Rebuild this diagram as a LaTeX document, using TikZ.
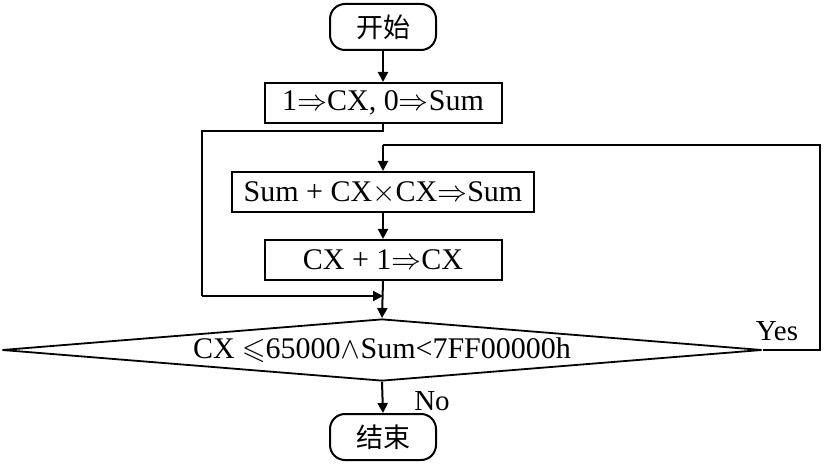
\documentclass[tikz,border=0pt]{standalone}
\usepackage{unicode-math}
\setmainfont{Liberation Serif}
\setmathfont{Latin Modern Math}
\newfontfamily\cjk{Noto Sans CJK SC}
\usetikzlibrary{arrows.meta,shapes.geometric}
\begin{document}
\begin{tikzpicture}[x=1pt,y=-1pt,
  term/.style={draw, line width=2pt, rounded corners=15pt, minimum width=106pt, minimum height=46pt, inner sep=0pt, font=\cjk\fontsize{27}{30}\selectfont},
  proc/.style={draw, line width=2pt, minimum height=40pt, inner sep=0pt, font=\fontsize{30}{34}\selectfont},
  dec/.style={diamond, draw, line width=1.8pt, aspect=12.2, minimum width=760pt, minimum height=62pt, inner sep=0pt, font=\fontsize{30}{34}\selectfont},
  lbl/.style={inner sep=0pt, font=\fontsize{29}{34}\selectfont},
  ln/.style={line width=2pt},
  arr/.style={ln, -{Triangle[length=10pt,width=10pt]}}]
\useasboundingbox (0,0) rectangle (838,470);
\node[term] (s) at (383,27) {开始};
\node[proc, minimum width=237pt] (b1) at (383,103) {1${\Rightarrow}$CX, 0${\Rightarrow}$Sum};
\node[proc, minimum width=302pt] (b2) at (383,192) {Sum + CX${\times}$CX${\Rightarrow}$Sum};
\node[proc, minimum width=237pt] (b3) at (383,260) {CX + 1${\Rightarrow}$CX};
\node[dec] (d) at (382,350) {CX ${\leqslant}$65000${\wedge}$Sum<7FF00000h};
\node[term] (e) at (383,437) {结束};
\node[lbl] (yes) at (777,331) {Yes};
\node[lbl] (no) at (432,401) {No};
\coordinate (L1) at (202,131);
\coordinate (L2) at (202,296);
\coordinate (J) at (383,296);
\coordinate (R1) at (820,350);
\coordinate (R2) at (820,145);
\coordinate (T) at (383,145);
\draw[arr] (s) -- (b1);
\draw[ln] (b1.south) |- (L1) -- (L2);
\draw[arr] (L2) -- (J);
\draw[arr] (b2) -- (b3);
\draw[arr] (b3.south) -- (d.north);
\draw[ln] (d.east) -- (R1) -- (R2) -- (T);
\draw[arr] (T) -- (b2.north);
\draw[arr] (d.south) -- (e.north);
\end{tikzpicture}
\end{document}
